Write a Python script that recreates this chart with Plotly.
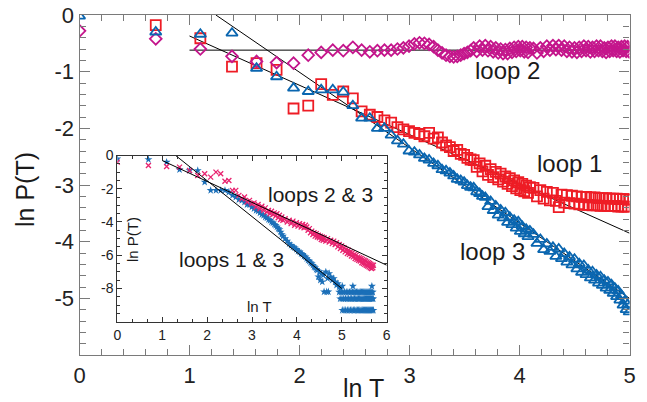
import numpy as np
import plotly.graph_objects as go

# ---------------- main panel data (x = ln T) ----------------
T_main = list(range(1, 61)) + list(range(62, 149, 2))

loop1 = [None, -0.18, -0.41, -0.91, -0.85, -0.97, -1.65, -1.60, -1.22, -1.41,
         -1.35, -1.47, -1.70, -1.76, -1.80, -1.86, -1.90, -1.98, -2.02, -2.05,
         -2.08, -2.10, -2.14, -2.08, -2.18, -2.16, -2.25, -2.30, -2.33, -2.40,
         -2.38, -2.45, -2.47, -2.52, -2.55,
         -2.56, -2.68, -2.62, -2.76, -2.66, -2.82, -2.72, -2.86, -2.77, -2.90,
         -2.80, -2.94, -2.85, -2.98, -2.88, -3.02, -2.92, -3.06, -2.95, -3.09,
         -2.98, -3.11, -3.01, -3.14, -3.04,
         -3.05, -3.20, -3.09, -3.24, -3.12, -3.27, -3.14, -3.28, -3.39, -3.17,
         -3.31, -3.18, -3.32, -3.19, -3.33, -3.20, -3.34, -3.21, -3.35, -3.21,
         -3.35, -3.22, -3.36, -3.22, -3.36, -3.23, -3.37, -3.23, -3.37, -3.23,
         -3.37, -3.24, -3.37, -3.24, -3.37, -3.24, -3.38, -3.25, -3.38, -3.25,
         -3.38, -3.25, -3.38, -3.26]

loop2 = [-0.28, -0.42, -0.60, -0.73, -0.82, -0.84, -0.85, -0.71, -0.66, -0.62,
         -0.63, -0.57, -0.62, -0.65, -0.63, -0.62, -0.62, -0.60, -0.58, -0.55,
         -0.51, -0.49, -0.50, -0.52, -0.56, -0.62, -0.67, -0.71, -0.73, -0.74,
         -0.73, -0.71, -0.68, -0.66, -0.63,
         -0.58, -0.64, -0.55, -0.62, -0.54, -0.63, -0.56, -0.65, -0.58, -0.67,
         -0.60, -0.68, -0.61, -0.68, -0.59, -0.66, -0.57, -0.64, -0.56, -0.63,
         -0.56, -0.65, -0.57, -0.66, -0.58,
         -0.59, -0.67, -0.58, -0.64, -0.55, -0.62, -0.54, -0.61, -0.54, -0.62,
         -0.55, -0.64, -0.57, -0.65, -0.58, -0.66, -0.57, -0.64, -0.55, -0.63,
         -0.56, -0.65, -0.57, -0.64, -0.55, -0.63, -0.55, -0.64, -0.58, -0.66,
         -0.57, -0.64, -0.55, -0.63, -0.55, -0.64, -0.57, -0.65, -0.56, -0.63,
         -0.55, -0.64, -0.56, -0.65]

loop3 = [-0.02, -0.30, -0.34, -0.32, -0.94, -1.09, -1.29, -1.35, -1.32, -1.32,
         -1.36, -1.60, -1.82, -1.82, -2.00, -2.00, -2.12, -2.22, -2.28, -2.40,
         -2.42, -2.47, -2.53, -2.56, -2.62, -2.66, -2.73, -2.75, -2.79, -2.84,
         -2.90, -2.92, -2.95, -3.01, -3.04, -3.05, -3.12, -3.15, -3.20,
         -3.22, -3.38, -3.29, -3.45, -3.37, -3.53, -3.44, -3.58, -3.49, -3.66,
         -3.57, -3.70, -3.62, -3.76, -3.65, -3.82, -3.73, -3.86, -3.78, -3.91,
         -3.81,
         -3.87, -4.03, -3.96, -4.14, -4.04, -4.17, -4.10, -4.26, -4.13, -4.30,
         -4.21, -4.36, -4.27, -4.41, -4.31, -4.48, -4.39, -4.54, -4.42, -4.58,
         -4.50, -4.64, -4.53, -4.68, -4.59, -4.73, -4.62, -4.77, -4.68, -4.82,
         -4.71, -4.86, -4.76, -4.91, -4.82, -4.97, -4.87, -5.03, -4.95, -5.12,
         -5.05, -5.20, -5.11, -5.24]

# fitted lines (endpoints in ln T, ln P)
fit1_x, fit1_y = [1.0, 5.0], [-0.37, -3.85]
fit2_x, fit2_y = [1.0, 5.0], [-0.62, -0.62]
fit3_x, fit3_y = [1.24, 5.0], [0.0, -5.0]

# ---------------- inset data ----------------
T_in = list(range(1, 41)) + list(range(42, 101, 2)) + list(range(104, 301, 4))

pink23 = [-0.40, -0.60, -0.66, -0.70, -0.90, -1.20, -1.10, -1.30, -1.00, -1.10,
          -1.55, -1.50, -2.10, -2.10, -2.40, -2.60, -2.50, -2.80, -2.70, -2.90,
          -2.85, -3.10, -2.95, -3.20, -3.05, -3.30, -3.15, -3.40, -3.30, -3.50,
          -3.35, -3.55, -3.45, -3.65, -3.50, -3.75, -3.60, -3.85, -3.70, -3.90,
          -3.80, -4.00, -3.90, -4.10, -3.95, -4.20, -4.05, -4.25, -4.10, -4.30,
          -4.15, -4.35, -4.20, -4.30, -4.50, -4.40, -4.65, -4.55, -4.75, -4.65,
          -4.85, -4.70, -4.90, -4.80, -4.95, -4.85, -5.05, -4.90, -5.10, -4.95,
          -5.15, -5.00, -5.20, -5.10, -5.30, -5.15, -5.35, -5.25, -5.50, -5.35,
          -5.60, -5.45, -5.70, -5.55, -5.80, -5.65, -5.90, -5.70, -5.95, -5.80,
          -6.05, -5.85, -6.10, -5.95, -6.20, -6.00, -6.25, -6.10, -6.30, -6.15,
          -6.35, -6.20, -6.45, -6.25, -6.50, -6.30, -6.55, -6.35, -6.60, -6.40,
          -6.65, -6.45, -6.70, -6.50, -6.75, -6.55, -6.80, -6.60, -6.75, -6.60]

T_in_blue = list(range(1, 41)) + list(range(42, 101, 2)) + list(range(104, 145, 4))
blue13 = [-0.20, -0.24, -0.40, -0.85, -0.90, -0.90, -1.60, -2.10, -2.10, -2.10,
          -2.10, -2.20, -2.40, -2.50, -2.65, -2.70, -2.80, -2.95, -2.95, -3.10,
          -3.20, -3.30, -3.35, -3.45, -3.55, -3.60, -3.70, -3.75, -3.85, -3.90,
          -4.00, -4.05, -4.15, -4.20, -4.30, -4.40, -4.45, -4.60, -4.75, -4.85,
          -5.00, -5.15, -5.30, -5.40, -5.50, -5.55, -5.65, -5.75, -5.80, -5.90,
          -5.95, -6.05, -6.10, -6.20, -6.30, -6.35, -6.45, -6.50, -6.60, -6.70,
          -6.75, -6.85, -6.90, -7.30, -7.00, -7.50, -7.10, -7.60, -7.20, -8.20,
          -7.00, -7.40, -7.10, -7.30, -7.50, -7.40, -7.60, -7.80, -7.70, -7.90,
          -8.00]
# quantized tail levels of the blue stars
tail_T_a = list(range(140, 301, 6))
tail_y_a = -8.22
tail_T_b = list(range(143, 301, 6))
tail_y_b = -8.62
tail_T_c = list(range(150, 301, 6))
tail_y_c = -9.31
tail_T_d = [150, 190, 290]
tail_y_d = -7.86
extra_T = [106, 110]
extra_y = [-8.2, -8.2]

fitA_x, fitA_y = [1.0, 6.0], [-0.3, -6.6]
fitB_x, fitB_y = [1.3, 5.0], [0.0, -8.0]

RED = "#ee1c25"
MAG = "#c4168c"
BLUE = "#0a66b0"
PINK = "#e8236f"
BLUE2 = "#1b6fb8"
FONT = "Liberation Sans, Arial, sans-serif"

fig = go.Figure()
x_main = np.log(T_main)

fig.add_trace(go.Scatter(x=fit1_x, y=fit1_y, mode="lines", line=dict(color="black", width=1), xaxis="x", yaxis="y"))
fig.add_trace(go.Scatter(x=fit2_x, y=fit2_y, mode="lines", line=dict(color="black", width=1), xaxis="x", yaxis="y"))
fig.add_trace(go.Scatter(x=fit3_x, y=fit3_y, mode="lines", line=dict(color="black", width=1), xaxis="x", yaxis="y"))

fig.add_trace(go.Scatter(x=x_main, y=loop1, mode="markers",
                         marker=dict(symbol="square-open", size=10, color=RED, line=dict(width=1.8, color=RED)),
                         xaxis="x", yaxis="y", cliponaxis=True))
fig.add_trace(go.Scatter(x=x_main, y=loop2, mode="markers",
                         marker=dict(symbol="diamond-open", size=9, color=MAG, line=dict(width=1.8, color=MAG)),
                         xaxis="x", yaxis="y", cliponaxis=True))
fig.add_trace(go.Scatter(x=x_main, y=loop3, mode="markers",
                         marker=dict(symbol="triangle-up-open", size=10, color=BLUE, line=dict(width=1.8, color=BLUE)),
                         xaxis="x", yaxis="y", cliponaxis=True))

# inset
bx = list(np.log(T_in_blue)) + list(np.log(tail_T_a)) + list(np.log(tail_T_b)) + \
     list(np.log(tail_T_c)) + list(np.log(tail_T_d)) + list(np.log(extra_T))
by = blue13 + [tail_y_a] * len(tail_T_a) + [tail_y_b] * len(tail_T_b) + \
     [tail_y_c] * len(tail_T_c) + [tail_y_d] * len(tail_T_d) + extra_y

fig.add_trace(go.Scatter(x=bx, y=by, mode="markers",
                         marker=dict(symbol="star", size=6, color=BLUE2, line=dict(width=0)),
                         xaxis="x2", yaxis="y2"))
fig.add_trace(go.Scatter(x=np.log(T_in), y=pink23, mode="markers",
                         marker=dict(symbol="x-thin", size=5, color=PINK, line=dict(width=1.3, color=PINK)),
                         xaxis="x2", yaxis="y2"))
fig.add_trace(go.Scatter(x=fitA_x, y=fitA_y, mode="lines", line=dict(color="black", width=1), xaxis="x2", yaxis="y2"))
fig.add_trace(go.Scatter(x=fitB_x, y=fitB_y, mode="lines", line=dict(color="black", width=1), xaxis="x2", yaxis="y2"))

W, H = 647, 402
AX = "#7a7a7a"
main_tick = dict(ticks="inside", ticklen=10, tickwidth=1.3, tickcolor=AX,
                 showline=True, linecolor=AX, linewidth=1.3, mirror="ticks",
                 showgrid=False, zeroline=False, automargin=False,
                 tickfont=dict(family=FONT, size=22, color="#222"))
fig.update_layout(
    width=W, height=H, margin=dict(l=0, r=0, t=0, b=0, autoexpand=False),
    paper_bgcolor="white", plot_bgcolor="white", showlegend=False,
    xaxis=dict(domain=[79.5 / W, 629.5 / W], range=[0, 5], tickmode="array",
               tickvals=[0, 1, 2, 3, 4, 5], ticktext=["0", "1", "2", "3", "4", "5"],
               minor=dict(tickmode="linear", tick0=0, dtick=0.2, ticks="inside", ticklen=6,
                          tickwidth=1.2, tickcolor=AX),
               anchor="y", **main_tick),
    yaxis=dict(domain=[1 - 355 / H, 1 - 15 / H], range=[-6, 0], tickmode="array",
               tickvals=[0, -1, -2, -3, -4, -5], ticktext=["0", "-1", "-2", "-3", "-4", "-5"],
               minor=dict(tickmode="linear", tick0=0, dtick=0.2, ticks="inside", ticklen=6,
                          tickwidth=1.2, tickcolor=AX),
               anchor="x", **main_tick),
)
in_tick = dict(ticks="inside", ticklen=5, tickwidth=1, tickcolor="#333",
               showline=True, linecolor="#333", linewidth=1, mirror="ticks",
               showgrid=False, zeroline=False, automargin=False,
               tickfont=dict(family=FONT, size=14, color="#222"))
fig.update_layout(
    xaxis2=dict(domain=[117.3 / W, 386.7 / W], range=[0, 6], tickmode="array",
                tickvals=[0, 1, 2, 3, 4, 5, 6], ticktext=["0", "1", "2", "3", "4", "5", "6"],
                minor=dict(tickmode="linear", tick0=0, dtick=1 / 3, ticks="inside", ticklen=3,
                           tickwidth=1, tickcolor="#333"),
                anchor="y2", **in_tick),
    yaxis2=dict(domain=[1 - 321.7 / H, 1 - 155.5 / H], range=[-10, 0], tickmode="array",
                tickvals=[0, -2, -4, -6, -8], ticktext=["0", "-2", "-4", "-6", "-8"],
                minor=dict(tickmode="linear", tick0=0, dtick=0.5, ticks="inside", ticklen=3,
                           tickwidth=1, tickcolor="#333"),
                anchor="x2", **in_tick),
)

def ann(text, px, py, size, angle=0):
    fig.add_annotation(text=text, x=px / W, y=1 - py / H, xref="paper", yref="paper",
                       showarrow=False, textangle=angle, xanchor="center", yanchor="middle",
                       font=dict(family=FONT, size=size, color="#1a1a1a"))

ann("ln P(T)", 25, 190, 25, -90)
ann("ln T", 363, 388, 25)
ann("loop 2", 507.5, 70, 24)
ann("loop 1", 569, 164, 24)
ann("loop 3", 492.5, 251, 24)
ann("loops 2 &amp; 3", 320.5, 194, 21)
ann("loops 1 &amp; 3", 231.5, 259, 21)
ann("ln P(T)", 133, 240, 15, -90)
ann("ln T", 259, 306, 15)

fig.write_html("out.html", config={"displayModeBar": False},
               post_script="document.body.style.margin='0';document.body.style.padding='0';")
